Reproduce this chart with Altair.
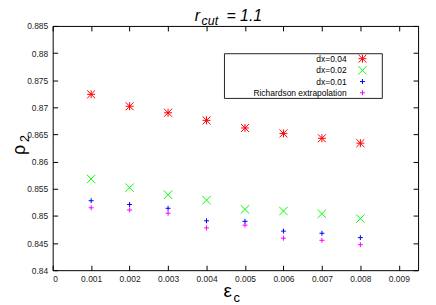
import altair as alt
import pandas as pd

# ---- data ----
eps_c = [0.001, 0.002, 0.003, 0.004, 0.005, 0.006, 0.007, 0.008]
dx_004 = [0.8724, 0.8702, 0.8690, 0.8676, 0.8662, 0.8652, 0.8643, 0.8634]
dx_002 = [0.8568, 0.8552, 0.8539, 0.8529, 0.8512, 0.8509, 0.8504, 0.8495]
dx_001 = [0.8528, 0.8521, 0.8514, 0.8491, 0.8490, 0.8472, 0.8468, 0.8460]
richardson = [0.8515, 0.8511, 0.8505, 0.8478, 0.8483, 0.8459, 0.8455, 0.8447]

series_names = ["dx=0.04", "dx=0.02", "dx=0.01", "Richardson extrapolation"]
series_values = [dx_004, dx_002, dx_001, richardson]
series_colors = ["#ff0000", "#00ff00", "#0000ff", "#ff00ff"]

x_ticks = [0, 0.001, 0.002, 0.003, 0.004, 0.005, 0.006, 0.007, 0.008, 0.009]
y_ticks = [0.84, 0.845, 0.85, 0.855, 0.86, 0.865, 0.87, 0.875, 0.88, 0.885]
x_domain = [0, 0.0095]
y_domain = [0.84, 0.885]

# ---- styling ----
STAR = "M-1,0L1,0M0,-1L0,1M-1,-1L1,1M-1,1L1,-1"
CROSS_X = "M-1,-1L1,1M-1,1L1,-1"
PLUS = "M-1,0L1,0M0,-1L0,1"
shapes = [STAR, CROSS_X, PLUS, PLUS]
sizes = [64, 72, 25, 25]
FONT = "Liberation Sans"

W, H = 368, 246

xscale = alt.Scale(domain=x_domain, nice=False, zero=False)
yscale = alt.Scale(domain=y_domain, nice=False, zero=False)

def main_axis_x():
    return alt.Axis(values=x_ticks, format=".3~f", orient="bottom", offset=-5,
                    tickSize=5, tickColor="black", domain=False, grid=False,
                    labelFont=FONT, labelFontSize=8.5, labelColor="#222",
                    labelPadding=4, title=None)

def main_axis_y():
    return alt.Axis(values=y_ticks, format=".3~f", orient="left", offset=-5,
                    tickSize=5, tickColor="black", domain=False, grid=False,
                    labelFont=FONT, labelFontSize=8.5, labelColor="#222",
                    labelPadding=5, title=None)

def mirror_axis_x():
    return alt.Axis(values=x_ticks, orient="top", offset=-5, tickSize=5,
                    tickColor="black", domain=False, grid=False, labels=False,
                    title=None)

def mirror_axis_y():
    return alt.Axis(values=y_ticks, orient="right", offset=-5, tickSize=5,
                    tickColor="black", domain=False, grid=False, labels=False,
                    title=None)

layers = []
for i, (name, vals, col, shp, sz) in enumerate(zip(series_names, series_values,
                                                   series_colors, shapes, sizes)):
    df = pd.DataFrame({"eps": eps_c, "val": vals, "series": name})
    xa = main_axis_x() if i == 0 else None
    ya = main_axis_y() if i == 0 else None
    layers.append(
        alt.Chart(df).mark_point(shape=shp, filled=False, stroke=col,
                                 strokeWidth=1, size=sz, opacity=1)
        .encode(x=alt.X("eps:Q", scale=xscale, axis=xa),
                y=alt.Y("val:Q", scale=yscale, axis=ya))
    )

# mirrored ticks on top / right (invisible marks, axes only)
df0 = pd.DataFrame({"eps": eps_c, "val": dx_004})
layers.append(
    alt.Chart(df0).mark_point(opacity=0)
    .encode(x=alt.X("eps:Q", scale=xscale, axis=mirror_axis_x()),
            y=alt.Y("val:Q", scale=yscale, axis=mirror_axis_y()))
)

one = alt.Data(values=[{"k": 1}])

def label(text, x, y, size, align="left", angle=0, style="normal", baseline="alphabetic"):
    return alt.Chart(one).mark_text(text=text, font=FONT, fontSize=size,
                                    fontStyle=style, align=align, angle=angle,
                                    baseline=baseline, color="black").encode(
        x=alt.value(x), y=alt.value(y))

# title r_cut = 1.1
layers.append(label("r", 143, -5, 16, style="italic"))
layers.append(label("cut", 150, -0.5, 12.5, style="italic"))
layers.append(label("= 1.1", 175, -5, 16, style="italic"))

# x title epsilon_c
layers.append(label("ε", 172, 273, 19))
layers.append(label("c", 182, 278, 13))

# y title rho_2
layers.append(label("ρ", -28, 125, 18, align="center", angle=270))
layers.append(label("2", -24, 113.5, 12.5, align="center", angle=270))

# legend box
layers.append(
    alt.Chart(one).mark_rect(fill="white", stroke="#222", strokeWidth=1)
    .encode(x=alt.value(173), x2=alt.value(332), y=alt.value(28), y2=alt.value(73))
)
leg_y = [33, 44.7, 56, 67.3]
for name, col, shp, sz, ly in zip(series_names, series_colors, shapes, sizes, leg_y):
    layers.append(label(name, 296, ly, 8.5, align="right", baseline="middle"))
    layers.append(
        alt.Chart(one).mark_point(shape=shp, filled=False, stroke=col,
                                  strokeWidth=1, size=sz, opacity=1)
        .encode(x=alt.value(312), y=alt.value(ly))
    )

chart = (
    alt.layer(*layers)
    .resolve_axis(x="independent", y="independent")
    .properties(width=W, height=H, autosize="none",
                padding={"left": 45, "top": 17, "right": 10, "bottom": 34},
                background="white")
    .configure_view(stroke="black", strokeWidth=1)
)

chart.save("out.html", embed_options={"renderer": "svg", "actions": False})
